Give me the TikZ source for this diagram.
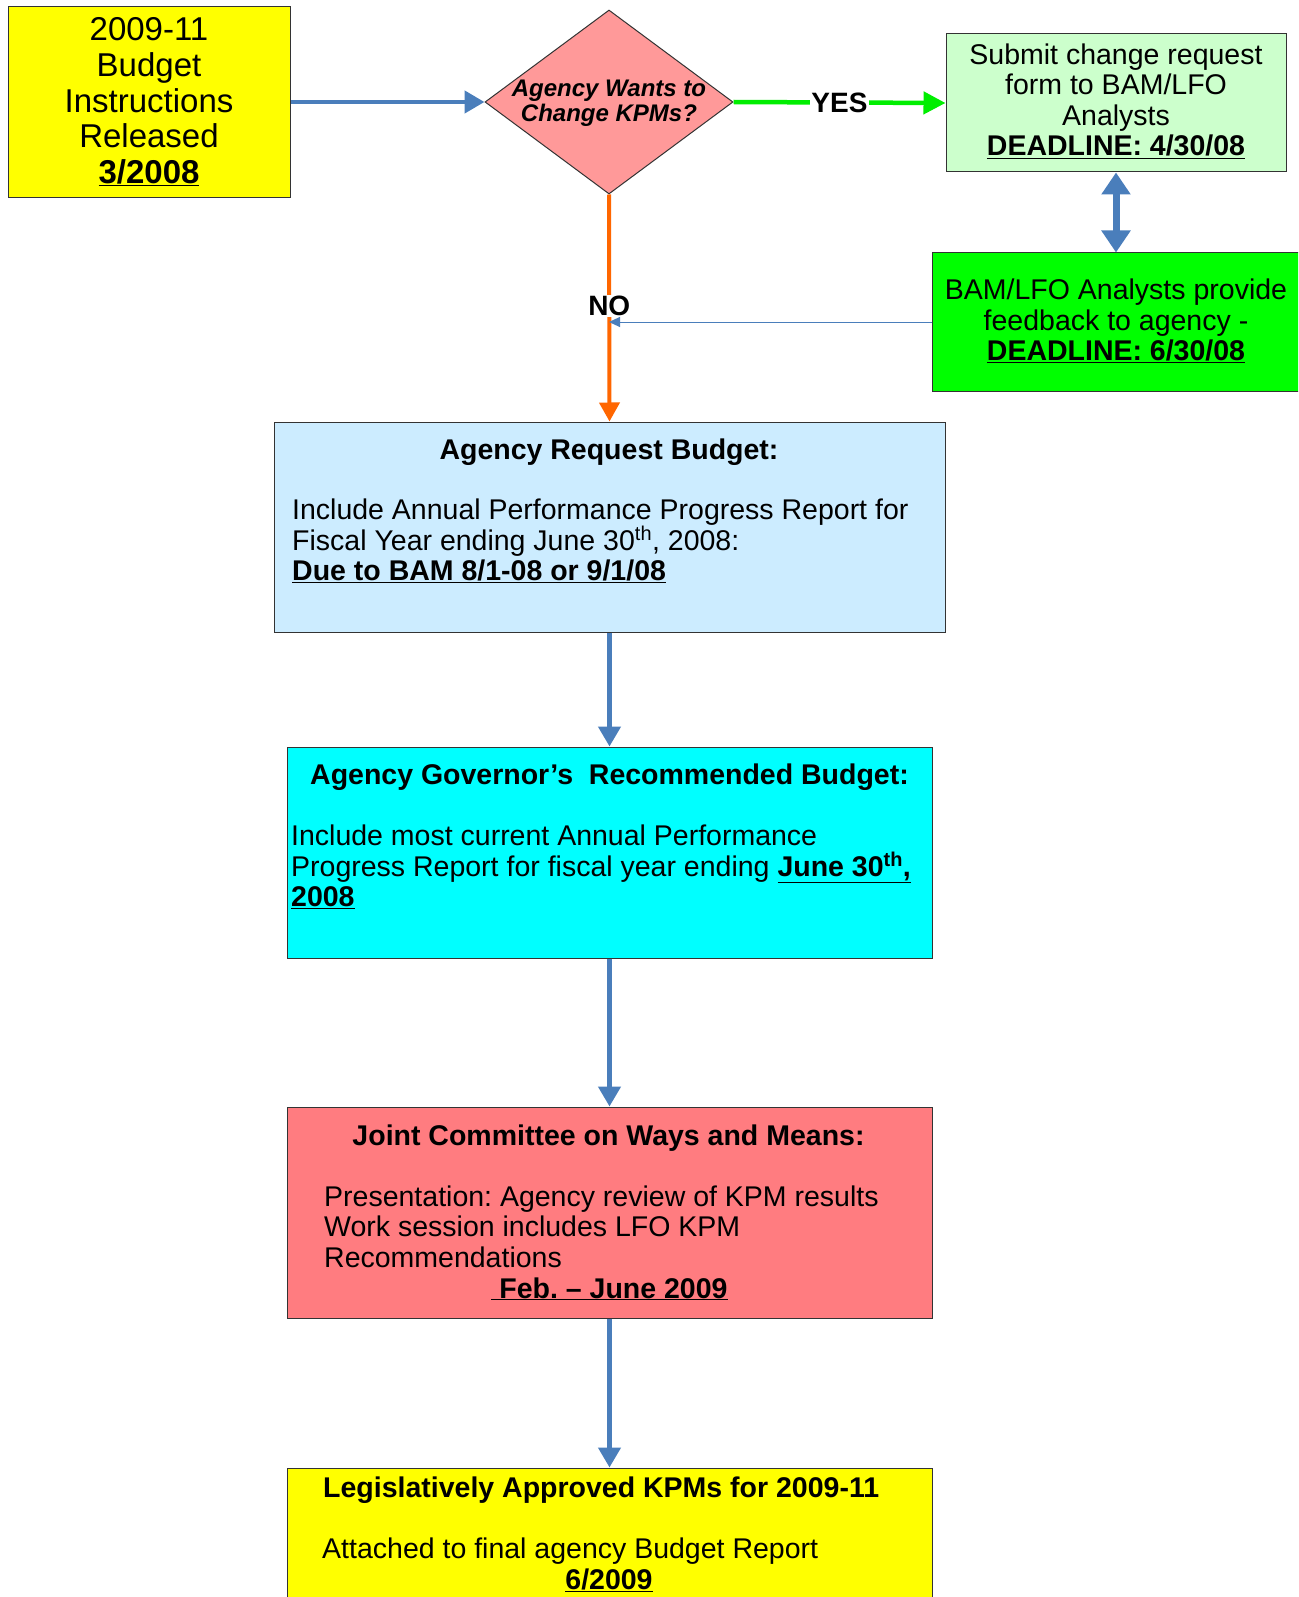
\documentclass[tikz,border=0pt]{standalone}
\usepackage{fontspec}
\setmainfont{Liberation Sans}
\usetikzlibrary{arrows.meta,shapes.geometric}
\definecolor{cYel}{HTML}{FFFF00}
\definecolor{cPink}{HTML}{FF9999}
\definecolor{cLGreen}{HTML}{CCFFCC}
\definecolor{cBGreen}{HTML}{00FF00}
\definecolor{cLBlue}{HTML}{CCECFF}
\definecolor{cCyan}{HTML}{00FFFF}
\definecolor{cRed}{HTML}{FF7C80}
\definecolor{cArrB}{HTML}{4A7EBB}
\definecolor{cOrange}{HTML}{FF6600}
\definecolor{cGreenA}{HTML}{00EE00}
\definecolor{cBorder}{HTML}{333333}
\newcommand\BodyF{\fontsize{28.5}{30.5}\selectfont}
\newcommand\BigF{\fontsize{33}{35.7}\selectfont}
\newcommand\DecF{\fontsize{24}{24.5}\selectfont}
\newcommand\LabF{\fontsize{28}{30}\selectfont}
\newcommand\ul[1]{\underline{\textbf{#1}}}
\frenchspacing
\begin{document}
\begin{tikzpicture}[x=1pt,y=-1pt,
  box/.style={draw=cBorder, line width=1pt, rectangle, inner sep=0pt},
  txt/.style={inner sep=0pt, font=\BodyF},
  arrb/.style={draw=cArrB, line width=4.5pt, -{Triangle[length=20pt,width=22pt]}},
  arrg/.style={draw=cGreenA, line width=4.5pt, -{Triangle[length=22pt,width=22pt]}},
  arro/.style={draw=cOrange, line width=4pt, -{Triangle[length=19pt,width=20pt]}},
  arrthin/.style={draw=cArrB, line width=1pt, -{Triangle[length=11pt,width=10pt]}},
  arrdbl/.style={draw=cArrB, line width=7pt, {Triangle[length=22pt,width=28pt]}-{Triangle[length=22pt,width=28pt]}},
  lab/.style={fill=white, inner sep=1pt, font=\LabF\bfseries}
]
\clip (0,0) rectangle (1298,1597);
\fill[white] (0,0) rectangle (1298,1597);

% boxes
\node[box, fill=cYel, minimum width=282, minimum height=191, align=center, font=\BigF] (start) at (149,102)
  {2009-11\\Budget\\Instructions\\Released\\\ul{3/2008}};
\node[diamond, draw=cBorder, line width=1pt, fill=cPink, minimum width=248, minimum height=184, inner sep=0pt] (dec) at (609,102) {};
\node[inner sep=0pt, align=center, font=\DecF\bfseries\itshape] (dectxt) at (609,103) {Agency Wants to\\Change KPMs?};

\node[box, fill=cLGreen, minimum width=340, minimum height=138] (g1) at (1116,103) {};
\node[txt, align=center] (g1txt) at (1116,101) {Submit change request\\form to BAM/LFO\\Analysts\\\ul{DEADLINE: 4/30/08}};

\node[box, fill=cBGreen, minimum width=368, minimum height=138] (g2) at (1116,322) {};
\node[txt, align=center] (g2txt) at (1116,321) {BAM/LFO Analysts provide\\feedback to agency -\\\ul{DEADLINE: 6/30/08}};

\node[box, fill=cLBlue, minimum width=671, minimum height=210] (lb) at (609.5,527) {};
\node[txt, anchor=base, font=\BodyF\bfseries] (lbh) at (609,459) {Agency Request Budget:};
\node[txt, anchor=base west] (lb1) at (292,519) {Include Annual Performance Progress Report for};
\node[txt, anchor=base west] (lb2) at (292,550) {Fiscal Year ending June 30\textsuperscript{th}, 2008:};
\node[txt, anchor=base west] (lb3) at (292,580.5) {\ul{Due to BAM 8/1-08 or 9/1/08}};

\node[box, fill=cCyan, minimum width=645, minimum height=211] (cy) at (609.5,852.5) {};
\node[txt, anchor=base, font=\BodyF\bfseries] (cyh) at (609.5,784) {Agency Governor’s\ \ Recommended Budget:};
\node[txt, anchor=base west] (cy1) at (291,845.5) {Include most current Annual Performance};
\node[txt, anchor=base west] (cy2) at (291,876) {Progress Report for fiscal year ending \ul{June 30\textsuperscript{th},}};
\node[txt, anchor=base west] (cy3) at (291,906.5) {\ul{2008}};

\node[box, fill=cRed, minimum width=645, minimum height=211] (rd) at (609.5,1212.5) {};
\node[txt, anchor=base, font=\BodyF\bfseries] (rdh) at (608.5,1145) {Joint Committee on Ways and Means:};
\node[txt, anchor=base west] (rd1) at (324,1206) {Presentation: Agency review of KPM results};
\node[txt, anchor=base west] (rd2) at (324,1236.6) {Work session includes LFO KPM};
\node[txt, anchor=base west] (rd3) at (324,1267) {Recommendations};
\node[txt, anchor=base] (rd4) at (609.5,1298) {\ul{\ Feb. – June 2009}};

\node[box, fill=cYel, minimum width=645, minimum height=160] (fin) at (609.5,1548) {};
\node[txt, anchor=base west, font=\BodyF\bfseries] (finh) at (323,1497.5) {Legislatively Approved KPMs for 2009-11};
\node[txt, anchor=base west] (fin1) at (322,1558.6) {Attached to final agency Budget Report};
\node[txt, anchor=base] (fin2) at (609,1589) {\ul{6/2009}};

% connectors
\draw[arrb] (start.east) -- (dec.west);
\draw[arrg] (dec.east) -- node[lab] (yes) {YES} (g1.west);
\draw[arrdbl] (g1.south) -- (g2.north);
\draw[arro] (dec.south) -- node[lab, pos=0.49] (no) {NO} (lb.north);
\coordinate (join) at (g2.west -| dec.south);
\draw[arrthin] (g2.west) -- (join);
\draw[arrb] (lb.south) -- (cy.north);
\draw[arrb] (cy.south) -- (rd.north);
\draw[arrb] (rd.south) -- (fin.north);
\end{tikzpicture}
\end{document}
